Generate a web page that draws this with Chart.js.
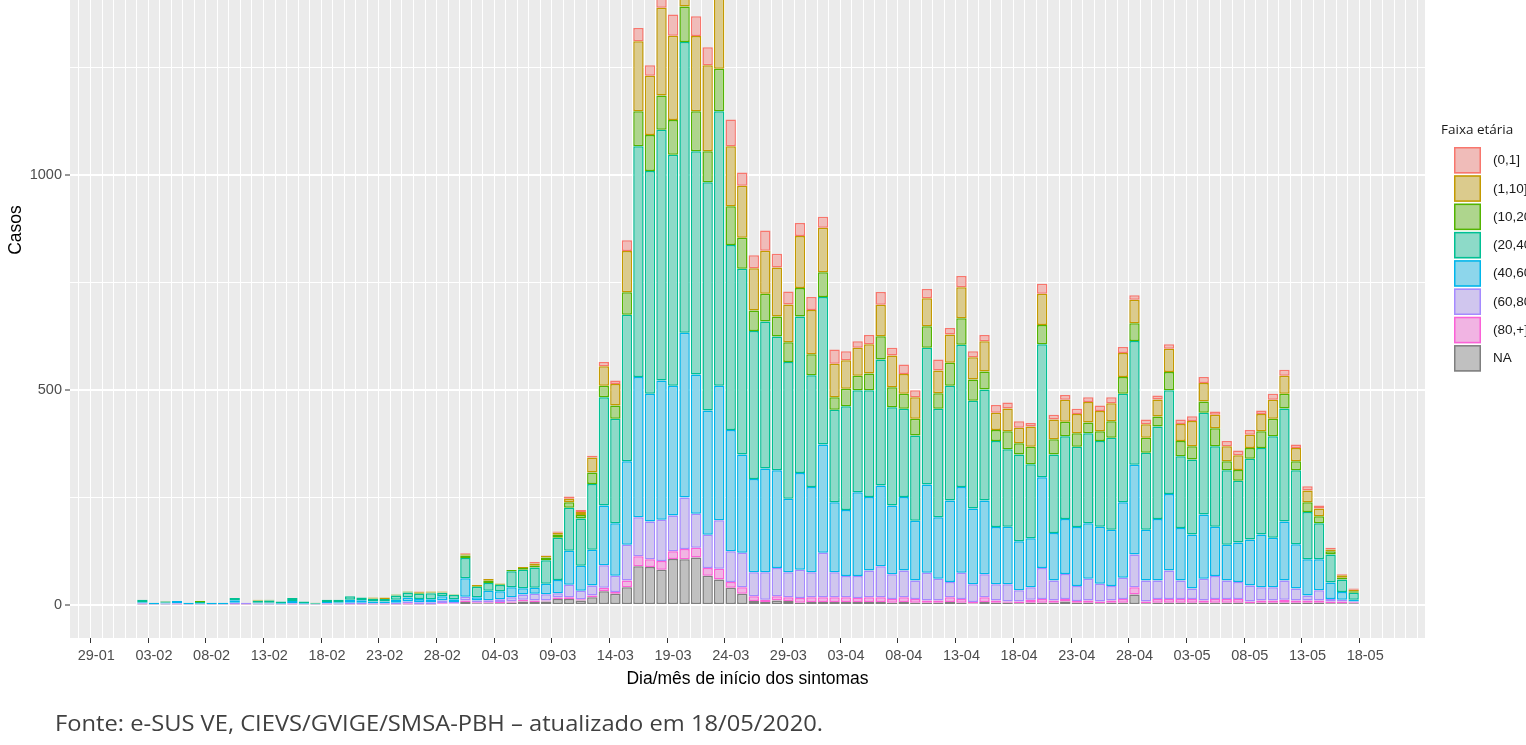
<!DOCTYPE html>
<html>
<head>
<meta charset="utf-8">
<script src="https://cdn.jsdelivr.net/npm/chart.js@4.4.1/dist/chart.umd.min.js"></script>
<style>
  html, body { margin: 0; padding: 0; background: #fff; overflow: hidden; width: 1526px; height: 745px; }
  .plot { position: absolute; left: 0; top: -178px; width: 1526px; height: 923px; }
  .source { position: absolute; left: 55px; top: 709px; font-family: "Open Sans", sans-serif; font-size: 21px;
            color: #404040; white-space: nowrap; transform-origin: left top; }
</style>
</head>
<body>
<div class="plot"><canvas id="casos"></canvas></div>
<div class="source" id="source">Fonte: e-SUS VE, CIEVS/GVIGE/SMSA-PBH – atualizado em 18/05/2020.</div>
<script>
// dia de início dos sintomas (uma barra por dia)
const days = [
  "02-02","03-02","04-02","05-02","06-02","07-02","08-02","09-02","10-02","11-02",
  "12-02","13-02","14-02","15-02","16-02","17-02","18-02","19-02","20-02","21-02",
  "22-02","23-02","24-02","25-02","26-02","27-02","28-02","29-02",
  "01-03","02-03","03-03","04-03","05-03","06-03","07-03","08-03","09-03","10-03",
  "11-03","12-03","13-03","14-03","15-03","16-03","17-03","18-03","19-03","20-03",
  "21-03","22-03","23-03","24-03","25-03","26-03","27-03","28-03","29-03","30-03","31-03",
  "01-04","02-04","03-04","04-04","05-04","06-04","07-04","08-04","09-04","10-04",
  "11-04","12-04","13-04","14-04","15-04","16-04","17-04","18-04","19-04","20-04",
  "21-04","22-04","23-04","24-04","25-04","26-04","27-04","28-04","29-04","30-04",
  "01-05","02-05","03-05","04-05","05-05","06-05","07-05","08-05","09-05","10-05",
  "11-05","12-05","13-05","14-05","15-05","16-05","17-05"
];
// 02-02 fica 4 dias depois do primeiro rótulo (29-01)
const firstDay = 4;

const tickLabels = [
  "29-01","03-02","08-02","13-02","18-02","23-02","28-02","04-03","09-03","14-03","19-03","24-03",
  "29-03","03-04","08-04","13-04","18-04","23-04","28-04","03-05","08-05","13-05","18-05"
];

const age01 = [
  0,0,0,0,0,0,0,0,0,0, 0,0,0,0,0,0,0,0,0,0, 0,0,0,0,1,0,0,0,2,0,
  0,0,0,0,4,1,3,5,5,4, 10,8,25,31,24,28,49,40,46,42, 40,62,31,30,47,32,30,30,30,26,
  33,21,15,22,30,18,22,16,22,26, 15,26,14,15,18,14,15,8,23,11, 11,12,11,13,14,14,10,11,9,10,
  10,11,14,8,12,11,11,8,14,14, 8,10,7,4,2,3
];
const age110 = [
  0,0,0,0,0,0,0,0,0,0, 2,0,0,0,0,0,0,0,0,0, 2,3,0,0,2,2,2,0,3,2,
  4,2,0,2,5,4,5,8,7,35, 45,50,96,163,138,204,196,170,175,200, 190,140,121,98,100,114,88,121,103,103,
  78,66,65,68,73,74,46,50,65,53, 66,72,52,70,40,53,36,47,73,46, 51,45,48,47,42,56,55,31,40,54,
  40,59,43,31,35,34,31,40,44,42, 31,27,18,4,6,3
];
const age1020 = [
  0,0,1,0,0,2,0,0,0,0, 1,2,0,0,0,1,0,0,0,0, 1,0,2,2,2,2,1,1,6,2,
  5,2,3,4,4,6,7,13,8,27, 27,31,52,81,84,80,81,83,93,72, 99,90,72,48,65,47,46,66,49,58,
  29,41,34,39,54,46,35,39,50,36, 53,62,49,42,26,42,26,41,45,35, 34,31,25,23,38,39,41,35,23,43,
  35,31,26,42,21,25,25,39,41,34, 21,23,16,8,4,4
];
const age2040 = [
  6,0,3,0,0,3,0,0,5,0, 4,5,4,7,4,2,5,6,8,6, 6,6,10,12,12,14,8,10,47,24,
  18,14,37,43,47,55,98,100,110,153, 252,243,341,537,518,583,537,676,519,531, 638,430,432,344,342,311,318,364,260,343,
  215,241,237,248,293,229,205,198,318,252, 267,331,251,258,200,180,202,172,309,183, 192,187,209,199,214,252,288,179,215,241,
  167,174,237,187,173,144,188,201,236,263, 172,110,84,65,29,16
];
const age4060 = [
  2,3,2,5,3,2,3,3,6,0, 2,2,2,5,2,0,3,3,7,6, 4,4,7,9,8,7,10,6,43,8,
  22,19,23,15,14,24,31,79,58,83, 139,122,194,326,297,324,302,383,324,289, 313,282,229,217,241,227,171,225,198,252,
  163,154,195,171,188,160,171,139,205,143, 190,199,176,172,133,134,114,114,211,110, 128,137,129,133,131,176,209,118,143,178,
  122,126,149,115,83,92,107,123,115,137, 103,84,72,38,18,4
];
const age6080 = [
  2,1,2,2,1,1,1,1,3,3, 2,2,1,2,1,1,2,2,3,3, 2,2,3,4,4,4,6,4,9,4,
  5,6,10,12,16,15,10,29,20,23, 52,38,83,91,88,96,83,120,79,77, 113,72,80,56,64,66,58,66,58,103,
  58,49,51,62,72,57,62,43,65,51, 35,61,41,53,38,40,26,29,72,47, 58,35,51,41,34,49,76,49,43,66,
  43,24,51,53,43,39,37,31,31,45, 28,12,24,6,4,2
];
const age80 = [
  1,0,0,1,0,0,0,0,1,1, 0,0,0,1,0,0,1,0,1,1, 1,1,1,3,1,1,2,1,3,2,
  2,3,3,4,3,2,3,4,3,4, 8,4,16,23,18,20,18,24,23,18, 25,13,15,11,5,10,9,11,11,11,
  11,11,9,11,11,9,11,9,5,5, 11,9,4,11,5,3,4,7,9,5, 6,4,5,4,5,9,17,4,9,9,
  9,9,5,9,9,9,4,5,5,7, 5,5,5,4,4,2
];
const ageNA = [
  1,1,1,1,1,1,1,1,1,1, 1,1,1,1,1,1,1,1,1,1, 1,1,1,1,1,1,2,2,7,4,
  4,4,5,8,7,8,14,14,10,18, 32,26,41,90,88,82,107,106,110,68, 59,40,26,9,7,10,9,5,7,7,
  7,7,7,7,7,5,7,5,5,5, 7,5,3,7,5,5,4,5,5,5, 8,5,5,4,5,5,24,4,5,5,
  5,5,5,5,5,5,4,5,5,5, 5,5,5,4,4,4
];

// empilhamento: primeiro conjunto fica embaixo
const series = [
  { label: "NA",      values: ageNA,   line: "#7F7F7F", fill: "#C0C0C0" },
  { label: "(80,+]",  values: age80,   line: "#FB61D7", fill: "#F1B4E3" },
  { label: "(60,80]", values: age6080, line: "#A58AFF", fill: "#D0C6EE" },
  { label: "(40,60]", values: age4060, line: "#00B6EB", fill: "#8DD6EB" },
  { label: "(20,40]", values: age2040, line: "#00C094", fill: "#8DDAC8" },
  { label: "(10,20]", values: age1020, line: "#53B400", fill: "#AED58D" },
  { label: "(1,10]",  values: age110,  line: "#C49A00", fill: "#DBCB8D" },
  { label: "(0,1]",   values: age01,   line: "#F8766D", fill: "#F0BCB9" }
];

// o canvas começa 178px acima da página (topo do gráfico cortado)
const shift = 178;

const panelBg = {
  id: "panelBg",
  beforeDraw(chart) {
    const { ctx, chartArea: a } = chart;
    ctx.save();
    ctx.fillStyle = "#EBEBEB";
    ctx.fillRect(a.left, a.top, a.right - a.left, a.bottom - a.top);
    ctx.restore();
  }
};

// legenda no estilo ggplot (ordem invertida)
const ageLegend = {
  id: "ageLegend",
  afterDraw(chart) {
    const ctx = chart.ctx;
    const sets = chart.data.datasets.slice().reverse();
    ctx.save();
    ctx.textBaseline = "middle";
    ctx.fillStyle = "#1a1a1a";
    ctx.font = '13.5px "Open Sans"';
    ctx.fillText("Faixa etária", 1441, 130 + shift);
    ctx.font = '13.5px "Liberation Sans"';
    sets.forEach((ds, i) => {
      const y = 147 + shift + i * 28.3;
      ctx.fillStyle = ds.backgroundColor;
      ctx.fillRect(1454, y, 27, 26.5);
      ctx.strokeStyle = ds.borderColor;
      ctx.lineWidth = 1.5;
      ctx.strokeRect(1454.75, y + 0.75, 25.5, 25);
      ctx.fillStyle = "#1a1a1a";
      ctx.fillText(ds.label, 1493, y + 13.5);
    });
    ctx.restore();
  }
};

const tickFont = { family: "Liberation Sans", size: 14.5 };
const titleFont = { family: "Liberation Sans", size: 17.5 };

new Chart(document.getElementById("casos"), {
  type: "bar",
  data: {
    datasets: series.map((s) => ({
      label: s.label,
      data: s.values.map((v, i) => ({ x: i + firstDay, y: v || null })),
      backgroundColor: s.fill,
      borderColor: s.line,
      borderWidth: 1.5,
      borderSkipped: false,
      barPercentage: 0.9,
      categoryPercentage: 1
    }))
  },
  options: {
    responsive: true,
    maintainAspectRatio: false,
    animation: false,
    devicePixelRatio: 1,
    layout: { padding: { left: 0, right: 101, top: 0, bottom: 0 } },
    plugins: { legend: { display: false }, tooltip: { enabled: false } },
    scales: {
      x: {
        type: "linear",
        stacked: true,
        min: -1.77,
        max: 114.68,
        afterBuildTicks(axis) {
          const t = [];
          for (let d = -1; d <= 114; d++) t.push({ value: d });
          axis.ticks = t;
        },
        afterFit(axis) {
          axis.height = 107;
          axis.paddingLeft = 0;
          axis.paddingRight = 0;
        },
        ticks: {
          autoSkip: false,
          maxRotation: 0,
          padding: 4,
          color: "#4D4D4D",
          font: tickFont,
          callback: (v) => (v % 5 === 0 && v >= 0 && v <= 110 ? tickLabels[v / 5] : "")
        },
        grid: {
          color: "#FFFFFF",
          lineWidth: 1,
          drawTicks: true,
          tickLength: 5,
          tickWidth: 1,
          tickColor: (c) => (c.tick && c.tick.value % 5 === 0 ? "#333333" : "rgba(0,0,0,0)")
        },
        border: { display: false },
        title: {
          display: true,
          text: "Dia/mês de início dos sintomas",
          color: "#000",
          font: titleFont,
          padding: { top: 0, bottom: 55 }
        }
      },
      y: {
        stacked: true,
        min: -77,
        max: 1821,
        afterBuildTicks(axis) {
          axis.ticks = [0, 250, 500, 750, 1000, 1250, 1500, 1750].map((v) => ({ value: v }));
        },
        afterFit(axis) {
          axis.width = 70;
          axis.paddingTop = 0;
          axis.paddingBottom = 0;
        },
        ticks: {
          padding: 3,
          color: "#4D4D4D",
          font: tickFont,
          callback: (v) => (v % 500 === 0 ? String(v) : "")
        },
        grid: {
          color: "#FFFFFF",
          lineWidth: (c) => (c.tick && c.tick.value % 500 === 0 ? 2 : 1),
          drawTicks: true,
          tickLength: 5,
          tickWidth: 1,
          tickColor: (c) => (c.tick && c.tick.value % 500 === 0 ? "#333333" : "rgba(0,0,0,0)")
        },
        border: { display: false },
        title: {
          display: true,
          text: "Casos",
          color: "#000",
          font: titleFont,
          padding: { top: 6, bottom: 0 }
        }
      }
    }
  },
  plugins: [panelBg, ageLegend]
});

const src = document.getElementById("source");
src.style.transform = "scaleX(" + (768 / src.getBoundingClientRect().width) + ")";
</script>
</body>
</html>
